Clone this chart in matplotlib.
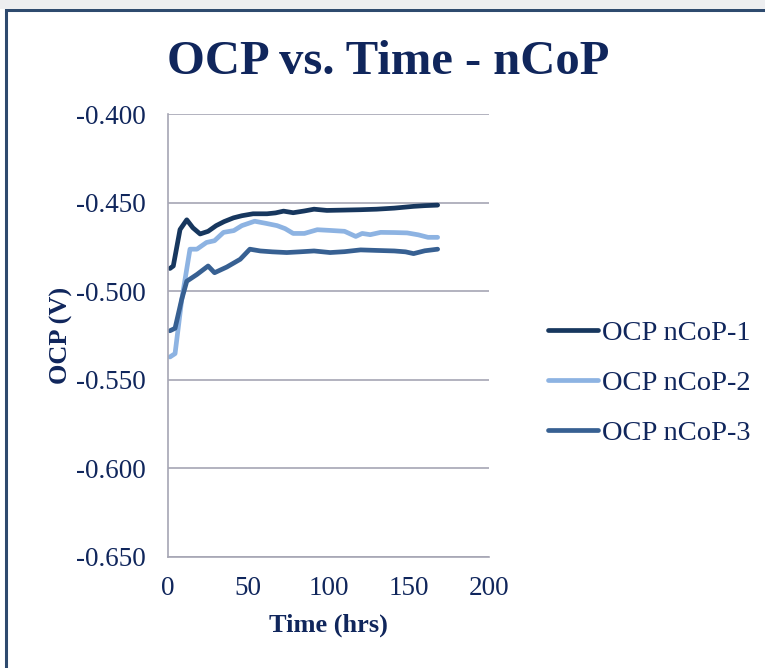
import matplotlib
matplotlib.use("Agg")
import matplotlib.pyplot as plt
from matplotlib.patches import Rectangle

plt.rcParams["font.family"] = ["Liberation Serif", "DejaVu Serif"]

# open circuit potential readings over the soak period (hours, volts)
time_1 = [1.2, 3.3, 7.5, 11.7, 15.5, 20, 25, 30, 35, 40.8, 46, 53, 61.7, 67, 72,
          78, 85, 91, 99, 110, 120, 130, 141, 153, 160, 168]
ocp_1 = [-0.4870, -0.4856, -0.4650, -0.4595, -0.4640, -0.4675, -0.4660, -0.4628,
         -0.4605, -0.4584, -0.4572, -0.4561, -0.4561, -0.4556, -0.4546, -0.4555,
         -0.4545, -0.4535, -0.4542, -0.4540, -0.4538, -0.4535, -0.4529, -0.4519,
         -0.4515, -0.4512]

time_2 = [1.2, 4.4, 8.5, 13.7, 18, 24, 29, 34.6, 41, 46, 54, 61, 68, 73, 78, 85,
          93, 101, 110, 117, 121, 126, 132.5, 141, 149, 156, 162, 168]
ocp_2 = [-0.5370, -0.5351, -0.5050, -0.4761, -0.4761, -0.4723, -0.4713, -0.4666,
         -0.4656, -0.4628, -0.4603, -0.4615, -0.4628, -0.4645, -0.4672, -0.4672,
         -0.4651, -0.4655, -0.4660, -0.4689, -0.4672, -0.4679, -0.4666, -0.4667,
         -0.4669, -0.4680, -0.4694, -0.4694]

time_3 = [1.2, 4.4, 8.5, 11.7, 18, 25, 29, 36.6, 45, 51, 57.5, 65, 74, 82, 91,
          101, 110, 120, 130, 141, 148, 153, 160, 168]
ocp_3 = [-0.5222, -0.5208, -0.5046, -0.4942, -0.4904, -0.4856, -0.4894, -0.4862,
         -0.4818, -0.4761, -0.4771, -0.4776, -0.4780, -0.4776, -0.4771, -0.4780,
         -0.4775, -0.4765, -0.4768, -0.4771, -0.4776, -0.4786, -0.4770, -0.4761]

series_labels = ["OCP nCoP-1", "OCP nCoP-2", "OCP nCoP-3"]
series_colors = ["#17375E", "#8DB3E2", "#376092"]

y_ticks = [-0.650, -0.600, -0.550, -0.500, -0.450, -0.400]
x_ticks = [0, 50, 100, 150, 200]

navy = "#10265C"
grid_gray = "#A6A6B4"

fig = plt.figure(figsize=(7.65, 6.68), dpi=100)
ax = fig.add_axes([0.2196, 0.1662, 0.4196, 0.6624])

for t, v, lab, col in zip([time_1, time_2, time_3], [ocp_1, ocp_2, ocp_3],
                          series_labels, series_colors):
    ax.plot(t, v, color=col, lw=3.4, label=lab,
            solid_capstyle="round", solid_joinstyle="round")

ax.set_xlim(0, 200)
ax.set_ylim(-0.650, -0.400)
ax.set_xticks(x_ticks)
ax.set_yticks(y_ticks)
ax.set_yticklabels([f"{v:.3f}" for v in y_ticks])
ax.tick_params(length=0, labelsize=19.5, colors=navy)
ax.tick_params(axis="y", pad=16)
ax.tick_params(axis="x", pad=14)
ax.yaxis.grid(True, color=grid_gray, lw=1.2)
ax.set_axisbelow(True)
for side in ["top", "right"]:
    ax.spines[side].set_visible(False)
for side in ["left", "bottom"]:
    ax.spines[side].set_color(grid_gray)
    ax.spines[side].set_linewidth(1.2)

ax.set_xlabel("Time (hrs)", fontsize=19, fontweight="bold", color=navy, labelpad=9)
ax.set_ylabel("OCP (V)", fontsize=19, fontweight="bold", color=navy, labelpad=2)

fig.text(0.507, 0.907, "OCP vs. Time - nCoP", ha="center", va="center",
         fontsize=35, fontweight="bold", color=navy)

leg = fig.legend(loc="center left", bbox_to_anchor=(0.683, 0.427), frameon=False,
                 fontsize=20.5, handlelength=1.75, handletextpad=0.15,
                 labelspacing=0.85, labelcolor=navy)

# chart frame, cut off at the right and bottom edges
fig.patches.append(Rectangle((6 / 765, -0.1), 1.2, 1 - 10 / 668 + 0.1,
                             transform=fig.transFigure, fill=False,
                             edgecolor="#2E4A6E", lw=2.2))
fig.patches.append(Rectangle((0, 1 - 9 / 668), 1, 9 / 668,
                             transform=fig.transFigure, facecolor="#EDEEF0",
                             edgecolor="none"))

fig.savefig("out.png", dpi=100)
